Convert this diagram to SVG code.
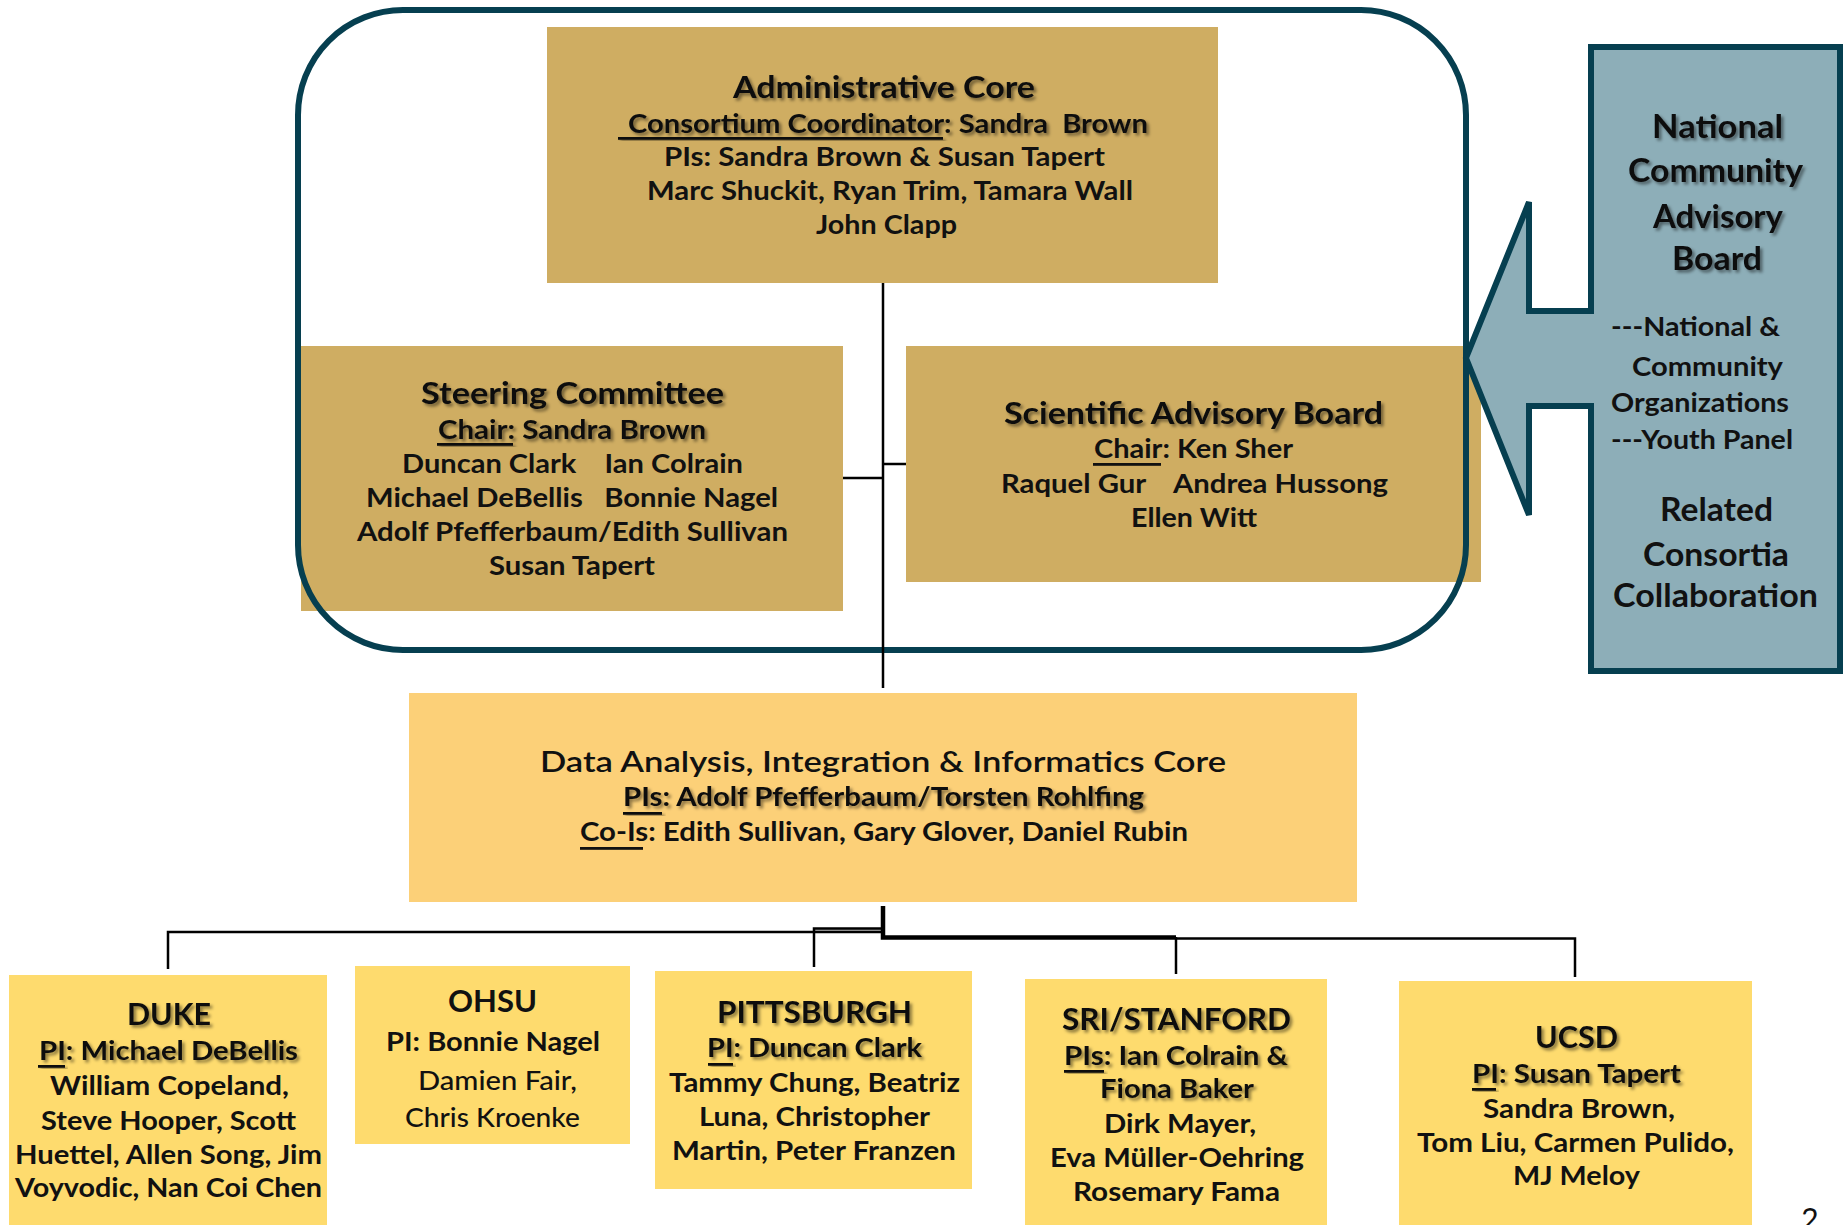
<svg xmlns="http://www.w3.org/2000/svg" width="1846" height="1225" viewBox="0 0 1846 1225">
<defs>
<filter id="ds" x="-10%" y="-30%" width="120%" height="170%">
<feDropShadow dx="2.5" dy="2.5" stdDeviation="1.6" flood-color="#000" flood-opacity="0.45"/>
</filter>
<style>
.t{font-family:Lato,"Liberation Sans",sans-serif;font-weight:700;fill:#111;white-space:pre}
.c{text-anchor:middle}
.sh{filter:url(#ds)}
.h{font-size:30px}
.hp{font-size:32px}
.b{font-size:26px}
.p{font-size:27px}
.r{font-weight:500}
.gold{fill:#cfad62}
.orange{fill:#fcd078}
.yellow{fill:#fedb6e}
.ul{fill:#111}
.ln{fill:none;stroke:#000;stroke-width:2.5}
</style>
</defs>
<rect width="1846" height="1225" fill="#fff"/>

<g id="admin-core">
<rect class="gold" x="547" y="27" width="671" height="256"/>
<text class="t c h sh" x="884" y="98" textLength="302" lengthAdjust="spacingAndGlyphs">Administrative Core</text>
<rect class="ul sh" x="618" y="137" width="325" height="2.8"/>
<text class="t c p sh" x="888" y="133" textLength="520" lengthAdjust="spacingAndGlyphs">Consortium Coordinator: Sandra  Brown</text>
<text class="t c b" x="884.5" y="166" textLength="441" lengthAdjust="spacingAndGlyphs">PIs: Sandra Brown &amp; Susan Tapert</text>
<text class="t c b" x="890" y="200" textLength="486" lengthAdjust="spacingAndGlyphs">Marc Shuckit, Ryan Trim, Tamara Wall</text>
<text class="t c b" x="886.5" y="234" textLength="141" lengthAdjust="spacingAndGlyphs">John Clapp</text>
</g>

<g id="steering-committee">
<rect class="gold" x="301" y="346" width="542" height="265"/>
<text class="t c h sh" x="572.5" y="404" textLength="303" lengthAdjust="spacingAndGlyphs">Steering Committee</text>
<rect class="ul sh" x="437" y="443" width="76" height="2.8"/>
<text class="t c b sh" x="572" y="439" textLength="268" lengthAdjust="spacingAndGlyphs">Chair: Sandra Brown</text>
<text class="t c b" x="572.5" y="473" textLength="341" lengthAdjust="spacingAndGlyphs">Duncan Clark    Ian Colrain</text>
<text class="t c b" x="572" y="507" textLength="412" lengthAdjust="spacingAndGlyphs">Michael DeBellis   Bonnie Nagel</text>
<text class="t c b" x="572.5" y="541" textLength="431" lengthAdjust="spacingAndGlyphs">Adolf Pfefferbaum/Edith Sullivan</text>
<text class="t c b" x="572" y="575" textLength="166" lengthAdjust="spacingAndGlyphs">Susan Tapert</text>
</g>

<g id="scientific-advisory-board">
<rect class="gold" x="906" y="346" width="575" height="236"/>
<text class="t c h sh" x="1193.5" y="424" textLength="379" lengthAdjust="spacingAndGlyphs">Scientific Advisory Board</text>
<rect class="ul" x="1093" y="463" width="68" height="2.8"/>
<text class="t c b" x="1193.5" y="458" textLength="199" lengthAdjust="spacingAndGlyphs">Chair: Ken Sher</text>
<text class="t c b" x="1194.5" y="493" textLength="387" lengthAdjust="spacingAndGlyphs">Raquel Gur    Andrea Hussong</text>
<text class="t c b" x="1194" y="527" textLength="126" lengthAdjust="spacingAndGlyphs">Ellen Witt</text>
</g>

<g id="consortium-outline">
<rect x="298" y="10" width="1168" height="640" rx="105" ry="105" fill="none" stroke="#063f50" stroke-width="6"/>
</g>

<g id="data-analysis-core">
<rect class="orange" x="409" y="693" width="948" height="209"/>
<text class="t c" style="font-size:28px;font-weight:600" x="883" y="772" textLength="686" lengthAdjust="spacingAndGlyphs">Data Analysis, Integration &amp; Informatics Core</text>
<rect class="ul sh" x="623" y="812" width="39" height="2.8"/>
<text class="t c b sh" x="883.5" y="806" textLength="521" lengthAdjust="spacingAndGlyphs">PIs: Adolf Pfefferbaum/Torsten Rohlfing</text>
<rect class="ul" x="580" y="847" width="63" height="2.8"/>
<text class="t c b" x="884" y="841" textLength="608" lengthAdjust="spacingAndGlyphs">Co-Is: Edith Sullivan, Gary Glover, Daniel Rubin</text>
</g>

<g id="connectors">
<path class="ln" d="M883,283 V688"/>
<path class="ln" d="M843,478 H883"/>
<path class="ln" d="M883,464 H906"/>
<rect x="814" y="929" width="69" height="3" fill="#bbb"/>
<path class="ln" d="M883,906 V932 H168 V969"/>
<path class="ln" d="M883,928.5 H814 V967"/>
<path class="ln" style="stroke-width:4.5" d="M883,906 V937.5 H1176"/>
<path class="ln" d="M1176,937 V974"/>
<path class="ln" d="M1176,938.5 H1575 V977"/>
</g>

<g id="duke">
<rect class="yellow" x="9" y="975" width="318" height="260"/>
<text class="t c h sh" x="169" y="1025" textLength="84" lengthAdjust="spacingAndGlyphs">DUKE</text>
<rect class="ul sh" x="38" y="1065" width="27" height="2.8"/>
<text class="t c b sh" x="168.5" y="1060" textLength="259" lengthAdjust="spacingAndGlyphs">PI: Michael DeBellis</text>
<text class="t c b" x="169.5" y="1095" textLength="239" lengthAdjust="spacingAndGlyphs">William Copeland,</text>
<text class="t c b" x="168.5" y="1130" textLength="255" lengthAdjust="spacingAndGlyphs">Steve Hooper, Scott</text>
<text class="t c b" x="168.5" y="1164" textLength="307" lengthAdjust="spacingAndGlyphs">Huettel, Allen Song, Jim</text>
<text class="t c b" x="168.5" y="1197" textLength="307" lengthAdjust="spacingAndGlyphs">Voyvodic, Nan Coi Chen</text>
</g>

<g id="ohsu">
<rect class="yellow" x="355" y="966" width="275" height="178"/>
<text class="t c h" x="492.5" y="1012" textLength="89" lengthAdjust="spacingAndGlyphs">OHSU</text>
<text class="t c b" x="493" y="1051" textLength="214" lengthAdjust="spacingAndGlyphs">PI: Bonnie Nagel</text>
<text class="t c b r" x="497.5" y="1090" textLength="159" lengthAdjust="spacingAndGlyphs">Damien Fair,</text>
<text class="t c b r" x="492.5" y="1127" textLength="175" lengthAdjust="spacingAndGlyphs">Chris Kroenke</text>
</g>

<g id="pittsburgh">
<rect class="yellow" x="655" y="971" width="317" height="218"/>
<text class="t c h sh" x="814.5" y="1023" textLength="195" lengthAdjust="spacingAndGlyphs">PITTSBURGH</text>
<rect class="ul sh" x="708" y="1063" width="25" height="2.8"/>
<text class="t c b sh" x="814.5" y="1057" textLength="215" lengthAdjust="spacingAndGlyphs">PI: Duncan Clark</text>
<text class="t c b" x="814.5" y="1092" textLength="291" lengthAdjust="spacingAndGlyphs">Tammy Chung, Beatriz</text>
<text class="t c b" x="814.5" y="1126" textLength="231" lengthAdjust="spacingAndGlyphs">Luna, Christopher</text>
<text class="t c b" x="814" y="1160" textLength="284" lengthAdjust="spacingAndGlyphs">Martin, Peter Franzen</text>
</g>

<g id="sri-stanford">
<rect class="yellow" x="1025" y="979" width="302" height="256"/>
<text class="t c h sh" x="1176.5" y="1030" textLength="229" lengthAdjust="spacingAndGlyphs">SRI/STANFORD</text>
<rect class="ul sh" x="1064" y="1070" width="40" height="2.8"/>
<text class="t c b sh" x="1176" y="1065" textLength="224" lengthAdjust="spacingAndGlyphs">PIs: Ian Colrain &amp;</text>
<text class="t c b sh" x="1177" y="1098" textLength="154" lengthAdjust="spacingAndGlyphs">Fiona Baker</text>
<text class="t c b" x="1180" y="1133" textLength="152" lengthAdjust="spacingAndGlyphs">Dirk Mayer,</text>
<text class="t c b" x="1177" y="1167" textLength="254" lengthAdjust="spacingAndGlyphs">Eva Müller-Oehring</text>
<text class="t c b" x="1176.5" y="1201" textLength="207" lengthAdjust="spacingAndGlyphs">Rosemary Fama</text>
</g>

<g id="ucsd">
<rect class="yellow" x="1399" y="981" width="353" height="254"/>
<text class="t c h sh" x="1576.5" y="1048" textLength="83" lengthAdjust="spacingAndGlyphs">UCSD</text>
<rect class="ul sh" x="1472" y="1088" width="24" height="2.8"/>
<text class="t c b sh" x="1576.5" y="1083" textLength="209" lengthAdjust="spacingAndGlyphs">PI: Susan Tapert</text>
<text class="t c b" x="1579" y="1118" textLength="192" lengthAdjust="spacingAndGlyphs">Sandra Brown,</text>
<text class="t c b" x="1575.5" y="1152" textLength="317" lengthAdjust="spacingAndGlyphs">Tom Liu, Carmen Pulido,</text>
<text class="t c b" x="1576.5" y="1185" textLength="127" lengthAdjust="spacingAndGlyphs">MJ Meloy</text>
</g>

<g id="national-advisory-board">
<path d="M1591,47 H1840 V671 H1591 V406 H1529 V515 L1466,358 L1529,202 V311 H1591 Z" fill="#8daeb8" stroke="#063f50" stroke-width="6" stroke-linejoin="miter"/>
<text class="t c hp sh" x="1717.5" y="138" textLength="131" lengthAdjust="spacingAndGlyphs">National</text>
<text class="t c hp sh" x="1715.5" y="182" textLength="175" lengthAdjust="spacingAndGlyphs">Community</text>
<text class="t c hp sh" x="1718" y="228" textLength="130" lengthAdjust="spacingAndGlyphs">Advisory</text>
<text class="t c hp sh" x="1717" y="270" textLength="90" lengthAdjust="spacingAndGlyphs">Board</text>
<text class="t p" x="1611" y="336" textLength="169" lengthAdjust="spacingAndGlyphs">---National &amp;</text>
<text class="t p" x="1632" y="376" textLength="151" lengthAdjust="spacingAndGlyphs">Community</text>
<text class="t p" x="1611" y="412" textLength="178" lengthAdjust="spacingAndGlyphs">Organizations</text>
<text class="t p" x="1611" y="449" textLength="182" lengthAdjust="spacingAndGlyphs">---Youth Panel</text>
<text class="t c hp" x="1716.5" y="521" textLength="113" lengthAdjust="spacingAndGlyphs">Related</text>
<text class="t c hp" x="1716" y="566" textLength="146" lengthAdjust="spacingAndGlyphs">Consortia</text>
<text class="t c hp" x="1715.5" y="607" textLength="205" lengthAdjust="spacingAndGlyphs">Collaboration</text>
</g>

<text class="t c" style="font-size:30px;font-weight:400" x="1810" y="1230">2</text>
</svg>
